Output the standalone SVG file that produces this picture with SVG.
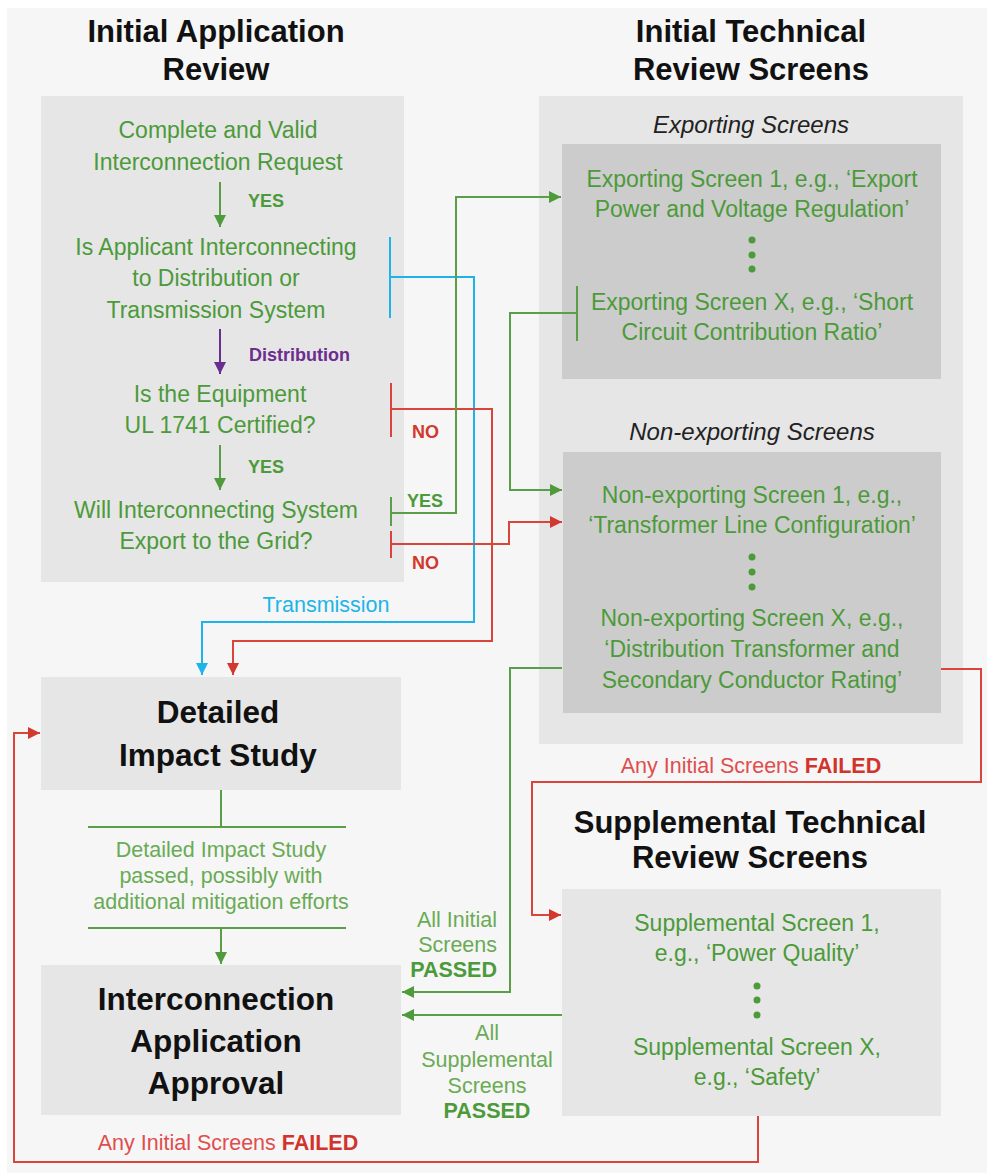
<svg xmlns="http://www.w3.org/2000/svg" width="987" height="1173" viewBox="0 0 987 1173">
<defs>
<style>
text{font-family:"Liberation Sans",Arial,sans-serif}
.title{font-size:31px;font-weight:bold;fill:#111;text-anchor:middle}
.big{font-size:31.5px;font-weight:bold;fill:#111;text-anchor:middle}
.g{font-size:23px;fill:#4c9a3a;text-anchor:middle}
.s{font-size:23px;fill:#4c9a3a;text-anchor:middle}
.it{font-size:24px;font-style:italic;fill:#222;text-anchor:middle}
.lbl{font-size:18px;font-weight:bold}
.sm{font-size:21.5px}
.lg{fill:#6aab55}
.box{fill:#e6e6e6}
.inner{fill:#cccccc}
.ln{fill:none;stroke-width:2}
.gl{stroke:#5a9e48}
.rl{stroke:#d9443d}
.bl{stroke:#1db4ea}
.pl{stroke:#6b2d8f}
.dot{fill:#4c9a3a}
</style>
<marker id="ag" markerUnits="userSpaceOnUse" markerWidth="12" markerHeight="12" refX="12" refY="6" orient="auto"><path d="M0,0 L12,6 L0,12 z" fill="#4f9a3b"/></marker>
<marker id="ar" markerUnits="userSpaceOnUse" markerWidth="12" markerHeight="12" refX="12" refY="6" orient="auto"><path d="M0,0 L12,6 L0,12 z" fill="#d3382f"/></marker>
<marker id="ab" markerUnits="userSpaceOnUse" markerWidth="12" markerHeight="12" refX="12" refY="6" orient="auto"><path d="M0,0 L12,6 L0,12 z" fill="#1db4ea"/></marker>
<marker id="ap" markerUnits="userSpaceOnUse" markerWidth="12" markerHeight="12" refX="12" refY="6" orient="auto"><path d="M0,0 L12,6 L0,12 z" fill="#6b2d8f"/></marker>
</defs>
<rect x="0" y="0" width="987" height="1173" fill="#ffffff"/>
<rect x="7" y="8" width="980" height="1165" fill="#f6f6f6"/>

<g id="initial-application-review">
<text class="title" x="216" y="42">Initial Application</text>
<text class="title" x="216" y="80">Review</text>
<rect class="box" x="41" y="96" width="363" height="486"/>
<text class="g" x="218" y="138">Complete and Valid</text>
<text class="g" x="218" y="170">Interconnection Request</text>
<text class="g" x="216" y="255">Is Applicant Interconnecting</text>
<text class="g" x="216" y="286">to Distribution or</text>
<text class="g" x="216" y="318">Transmission System</text>
<text class="g" x="220" y="402">Is the Equipment</text>
<text class="g" x="220" y="433">UL 1741 Certified?</text>
<text class="g" x="216" y="518">Will Interconnecting System</text>
<text class="g" x="216" y="549">Export to the Grid?</text>
<text class="lbl" x="248" y="207" fill="#4c9a3a">YES</text>
<text class="lbl" x="249" y="361" fill="#6b2d8f" font-size="20">Distribution</text>
<text class="lbl" x="248" y="473" fill="#4c9a3a">YES</text>
</g>

<g id="initial-technical-review">
<text class="title" x="751" y="42">Initial Technical</text>
<text class="title" x="751" y="80">Review Screens</text>
<rect class="box" x="539" y="96" width="424" height="648"/>
<text class="it" x="751" y="133">Exporting Screens</text>
<text class="it" x="752" y="440">Non-exporting Screens</text>
</g>

<g id="exporting-screens">
<rect class="inner" x="562" y="144" width="379" height="235"/>
<text class="s" x="752" y="187">Exporting Screen 1, e.g., ‘Export</text>
<text class="s" x="752" y="217">Power and Voltage Regulation’</text>
<circle class="dot" cx="752" cy="240" r="3.5"/>
<circle class="dot" cx="752" cy="255" r="3.5"/>
<circle class="dot" cx="752" cy="269" r="3.5"/>
<text class="s" x="752" y="310">Exporting Screen X, e.g., ‘Short</text>
<text class="s" x="752" y="340">Circuit Contribution Ratio’</text>
</g>

<g id="non-exporting-screens">
<rect class="inner" x="563" y="452" width="378" height="261"/>
<text class="s" x="752" y="503">Non-exporting Screen 1, e.g.,</text>
<text class="s" x="752" y="533">‘Transformer Line Configuration’</text>
<circle class="dot" cx="752" cy="557" r="3.5"/>
<circle class="dot" cx="752" cy="572" r="3.5"/>
<circle class="dot" cx="752" cy="587" r="3.5"/>
<text class="s" x="752" y="626">Non-exporting Screen X, e.g.,</text>
<text class="s" x="752" y="657">‘Distribution Transformer and</text>
<text class="s" x="752" y="688">Secondary Conductor Rating’</text>
</g>

<g id="detailed-impact-study">
<rect class="box" x="41" y="677" width="360" height="113"/>
<text class="big" x="218" y="723">Detailed</text>
<text class="big" x="218" y="766">Impact Study</text>
</g>

<g id="interconnection-approval">
<rect class="box" x="41" y="965" width="360" height="150"/>
<text class="big" x="216" y="1010">Interconnection</text>
<text class="big" x="216" y="1052">Application</text>
<text class="big" x="216" y="1094">Approval</text>
</g>

<g id="supplemental-screens">
<text class="title" x="750" y="833">Supplemental Technical</text>
<text class="title" x="750" y="868">Review Screens</text>
<rect class="box" x="562" y="889" width="379" height="227"/>
<text class="s" x="757" y="931">Supplemental Screen 1,</text>
<text class="s" x="757" y="961">e.g., ‘Power Quality’</text>
<circle class="dot" cx="757" cy="986" r="3.5"/>
<circle class="dot" cx="757" cy="1000" r="3.5"/>
<circle class="dot" cx="757" cy="1015" r="3.5"/>
<text class="s" x="757" y="1055">Supplemental Screen X,</text>
<text class="s" x="757" y="1085">e.g., ‘Safety’</text>
</g>

<g id="connectors">
<path class="ln gl" d="M220,182 V227" marker-end="url(#ag)"/>
<path class="ln pl" d="M220,329 V374" marker-end="url(#ap)"/>
<path class="ln gl" d="M220,445 V490" marker-end="url(#ag)"/>
<path class="ln bl" d="M390,237 V318 M390,277 H474 V622 H202 V675" marker-end="url(#ab)"/>
<path class="ln rl" d="M391,383 V437 M391,409 H492 V641 H233 V675" marker-end="url(#ar)"/>
<path class="ln gl" d="M391,497 V526 M391,513 H456 V197 H561" marker-end="url(#ag)"/>
<path class="ln rl" d="M391,531 V558 M391,544 H509 V522 H562" marker-end="url(#ar)"/>
<path class="ln gl" d="M577,286 V341 M577,313 H510 V490 H562" marker-end="url(#ag)"/>
<path class="ln gl" d="M221,790 V827 M88,827 H346 M88,928 H346 M221,928 V964" marker-end="url(#ag)"/>
<path class="ln gl" d="M562,668 H510 V992 H402" marker-end="url(#ag)"/>
<path class="ln gl" d="M562,1015 H402" marker-end="url(#ag)"/>
<path class="ln rl" d="M941,669 H981 V782 H532 V915 H561" marker-end="url(#ar)"/>
<path class="ln rl" d="M758,1116 V1162 H14 V733 H40" marker-end="url(#ar)"/>

<text class="sm" x="326" y="612" fill="#1db4ea" text-anchor="middle">Transmission</text>
<text class="lbl" x="412" y="438" fill="#d3382f">NO</text>
<text class="lbl" x="407" y="507" fill="#4c9a3a">YES</text>
<text class="lbl" x="412" y="569" fill="#d3382f">NO</text>
<text class="sm" x="751" y="773" text-anchor="middle"><tspan fill="#df4e4e">Any Initial Screens </tspan><tspan fill="#d0342c" font-weight="bold">FAILED</tspan></text>
<text class="sm lg" x="221" y="857" text-anchor="middle">Detailed Impact Study</text>
<text class="sm lg" x="221" y="883" text-anchor="middle">passed, possibly with</text>
<text class="sm lg" x="221" y="909" text-anchor="middle">additional mitigation efforts</text>
<text class="sm lg" x="497" y="927" text-anchor="end">All Initial</text>
<text class="sm lg" x="497" y="952" text-anchor="end">Screens</text>
<text class="sm" x="497" y="977" text-anchor="end" fill="#4c9a3a" font-weight="bold">PASSED</text>
<text class="sm lg" x="487" y="1040" text-anchor="middle">All</text>
<text class="sm lg" x="487" y="1067" text-anchor="middle">Supplemental</text>
<text class="sm lg" x="487" y="1093" text-anchor="middle">Screens</text>
<text class="sm" x="487" y="1118" text-anchor="middle" fill="#4c9a3a" font-weight="bold">PASSED</text>
<text class="sm" x="228" y="1150" text-anchor="middle"><tspan fill="#df4e4e">Any Initial Screens </tspan><tspan fill="#d0342c" font-weight="bold">FAILED</tspan></text>
</g>
</svg>
